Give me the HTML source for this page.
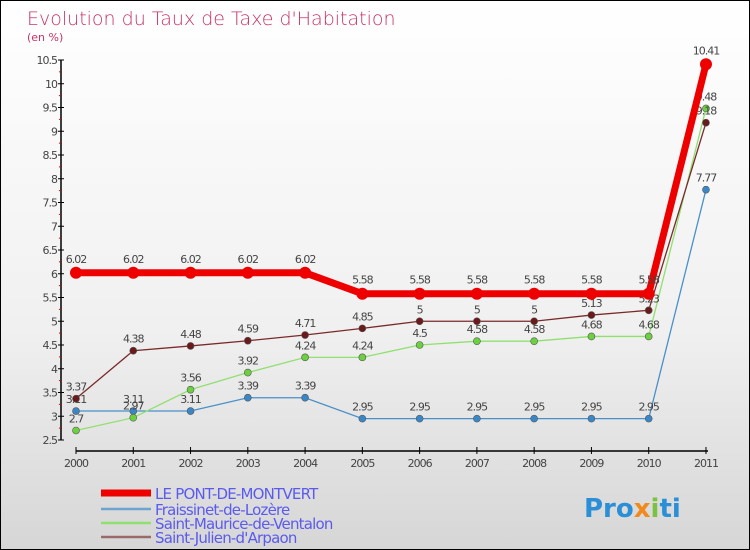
<!DOCTYPE html>
<html><head><meta charset="utf-8"><style>
body{margin:0}
#c{position:relative;width:748px;height:548px;border:1px solid #000;background:linear-gradient(#fff,#f0f0f0 60%,#d6d6d6);font-family:"DejaVu Sans","Liberation Sans",sans-serif;overflow:hidden}
</style></head><body>
<div id="c">
<svg width="748" height="548" id="svg">
<text x="26" y="24" font-size="19" fill="#c8336a" font-family="DejaVu Sans,sans-serif" font-weight="200">Evolution du Taux de Taxe d'Habitation</text>
<text x="26" y="40" font-size="11" fill="#c8336a">(en %)</text>
<g id="axes"></g><g id="series"></g><g id="legend"></g>
<text x="583" y="516" font-size="26" font-weight="bold" fill="#2a8fd6">Pro<tspan fill="#f08a1c">x</tspan><tspan fill="#7cc242">i</tspan>ti</text>
</svg></div>
<script>
const years=[2000,2001,2002,2003,2004,2005,2006,2007,2008,2009,2010,2011];
const yTicks=[2.5,3,3.5,4,4.5,5,5.5,6,6.5,7,7.5,8,8.5,9,9.5,10,10.5];
const pontValues=[6.02,6.02,6.02,6.02,6.02,5.58,5.58,5.58,5.58,5.58,5.58,10.41];
const fraisValues=[3.11,3.11,3.11,3.39,3.39,2.95,2.95,2.95,2.95,2.95,2.95,7.77];
const mauriceValues=[2.7,2.97,3.56,3.92,4.24,4.24,4.5,4.58,4.58,4.68,4.68,9.48];
const julienValues=[3.37,4.38,4.48,4.59,4.71,4.85,5,5,5,5.13,5.23,9.18];
const seriesNames=["LE PONT-DE-MONTVERT","Fraissinet-de-Lozère","Saint-Maurice-de-Ventalon","Saint-Julien-d'Arpaon"];
const NS="http://www.w3.org/2000/svg";
const xS=i=>75+i*57.27;
const yS=v=>439-(v-2.5)*47.5;
function mk(t,a,p){const e=document.createElementNS(NS,t);for(const k in a)e.setAttribute(k,a[k]);p.appendChild(e);return e;}
const ax=document.getElementById('axes');
let l=mk('line',{x1:60,y1:yS(10.5),x2:60,y2:yS(2.5),stroke:'#000','stroke-width':1.5},ax);


yTicks.forEach(v=>{
 mk('line',{x1:57,x2:63,y1:yS(v),y2:yS(v),stroke:'#000'},ax);
 if(v<10.5) mk('line',{x1:58,x2:60,y1:yS(v+0.25),y2:yS(v+0.25),stroke:'#d00'},ax);
 const t=mk('text',{x:56,y:yS(v)+4,'text-anchor':'end','font-size':11,fill:'#444','letter-spacing':'-1'},ax);
 t.textContent=v;
 
 
});
l=mk('line',{x1:75,x2:707,y1:450,y2:450,stroke:'#000','stroke-width':1.5},ax);


years.forEach((y,i)=>{
 mk('line',{x1:xS(i),x2:xS(i),y1:446,y2:453,stroke:'#000'},ax);
 const t=mk('text',{x:xS(i),y:466,'text-anchor':'middle','font-size':11,fill:'#444','letter-spacing':'-1'},ax);
 t.textContent=y;
 
 
});
const sg=document.getElementById('series');
const defs=[[fraisValues,'#4a90c8','#3a87c8',1.3,3.5,'fraissinet'],[mauriceValues,'#90e070','#6cd040',1.3,3.5,'saint-maurice'],[julienValues,'#7a2a2a','#6a1a1a',1.3,3.5,'saint-julien'],[pontValues,'#ee0000','#ee0000',7,6,'le-pont-de-montvert']];
defs.forEach(([vals,lc,pc,w,r,name])=>{
 const g=mk('g',{},sg);
 
 
 const p=mk('polyline',{points:vals.map((v,i)=>xS(i)+','+yS(v)).join(' '),fill:'none',stroke:lc,'stroke-width':w},g);
 
 
 vals.forEach((v,i)=>{
  const c=mk('circle',{cx:xS(i),cy:yS(v),r:r,fill:pc,stroke:'#555','stroke-width':w>3?0:0.6},g);
  
  
  const t=mk('text',{x:xS(i),y:yS(v)-(w>3?10:8),'text-anchor':'middle','font-size':11,fill:'#444','letter-spacing':'-1'},g);
  t.textContent=v;
  
  
 });
});
const lg=document.getElementById('legend');
const lcol=['#ee0000','#6fa4d0','#90e070','#9a6a6a'],lw=[7,2.5,2.5,2.5],ly=[492,508,522,536];
seriesNames.forEach((n,i)=>{
 const g=mk('g',{},lg);
 
 
 mk('line',{x1:100,x2:150,y1:ly[i],y2:ly[i],stroke:lcol[i],'stroke-width':lw[i]},g);
 const t=mk('text',{x:154,y:ly[i]+6,'font-size':15,fill:'#5a5af0','letter-spacing':'-0.8'},g);
 t.textContent=n;
 
 
});
</script>
</body></html>
